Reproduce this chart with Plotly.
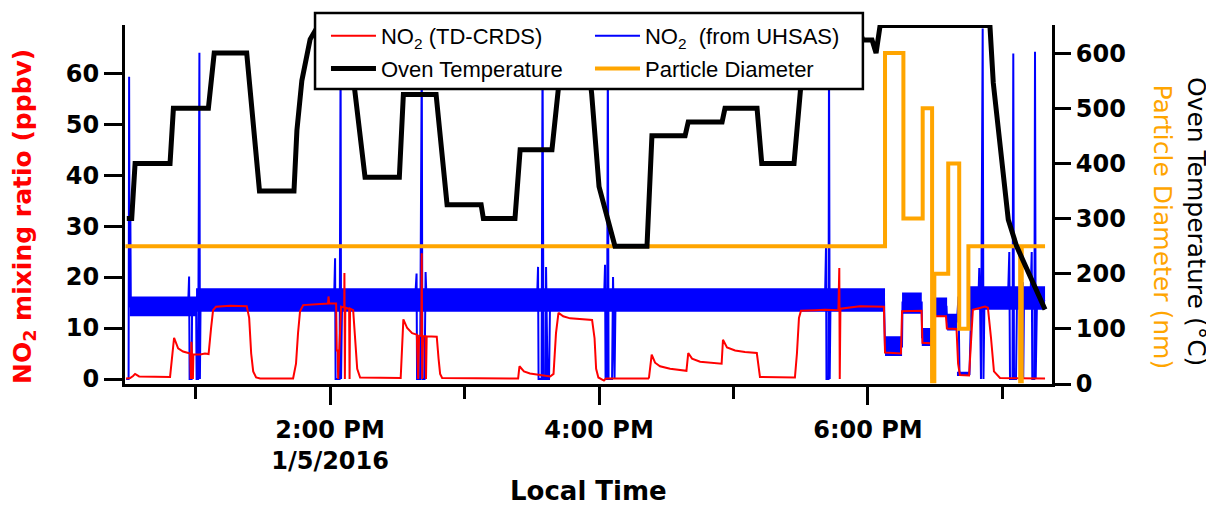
import pandas as pd
import plotly.graph_objects as go

BASE = pd.Timestamp("2016-01-05 12:00:00")


def clock(mins):
    return [BASE + pd.Timedelta(minutes=m) for m in mins]


# ---------------- data (minutes after 12:00 local time) ----------------
# Oven temperature (degC)
oven_min = [29.3, 31.5, 33.0, 48.6, 50.1, 65.7, 68.3, 82.8, 88.5, 103.9, 105.2, 107.4,
            111.1, 114.7, 127.6, 131.2, 135.6, 150.9, 152.7, 167.3, 172.2, 187.4, 188.4,
            202.5, 204.8, 219.0, 221.7, 224.8, 233.3, 236.7, 240.0, 243.4, 247.1, 261.4,
            263.6, 278.4, 279.8, 294.9, 296.2, 310.5, 312.6, 327.0, 329.7, 332.4, 355.0,
            357.8, 361.8, 363.6, 365.4, 414.4, 415.9, 418.9, 422.6, 426.3, 433.7, 439.0]
oven_degC = [300, 300, 400, 400, 500, 500, 600, 600, 350, 350, 460, 550,
             625, 650, 650, 527, 375, 375, 525, 525, 325, 325, 300,
             300, 425, 425, 527, 650, 650, 527, 358, 304, 250, 250,
             450, 450, 475, 475, 500, 500, 400, 400, 527, 650, 650,
             624, 624, 600, 650, 650, 546, 425, 298, 250, 183, 135]

# Particle diameter (nm), stepped
dia_min = [28.7, 367.6, 375.8, 384.4, 388.6, 389.6, 395.8, 400.7, 404.8, 427.9, 428.6, 439.0]
dia_nm = [250, 600, 300, 500, 5, 200, 400, 100, 250, 5, 250, 250]

# NO2 from TD-CRDS (ppbv)
crds_min = [29.0, 30.8, 32.1, 33.0, 34.8, 48.6, 50.4, 52.2, 54.4, 56.7, 57.6, 57.9, 58.1,
            58.4, 58.8, 59.0, 62.0, 64.2, 65.8, 66.9, 67.8, 69.1, 75.4, 82.8, 83.9, 84.8,
            85.7, 87.0, 88.8, 103.5, 104.8, 105.7, 106.6, 108.0, 115.5, 119.1, 119.3, 119.6,
            122.7, 123.0, 123.4, 123.6, 124.9, 126.3, 126.4, 126.6, 126.8, 128.5, 128.7,
            128.9, 130.3, 131.2, 132.1, 133.4, 151.2, 151.5, 152.7, 154.4, 156.6, 158.7,
            159.3, 159.7, 160.7, 160.9, 161.1, 161.5, 162.6, 162.8, 163.1, 167.6, 168.4,
            169.1, 170.0, 203.9, 204.5, 206.5, 209.2, 212.4, 218.2, 219.7, 220.8, 221.9,
            224.0, 227.1, 231.5, 236.9, 238.0, 238.7, 239.7, 242.2, 243.1, 262.0, 262.3,
            263.5, 265.0, 267.2, 271.7, 279.0, 279.8, 281.5, 285.1, 294.7, 295.3, 297.1,
            300.7, 305.1, 310.4, 310.9, 311.8, 327.4, 328.3, 329.2, 330.1, 336.4, 340.8,
            346.8, 347.2, 347.4, 347.7, 356.4, 367.1, 367.6, 374.7, 375.2, 383.9, 384.3,
            388.3, 389.2, 389.5, 389.9, 394.8, 395.2, 399.5, 400.2, 401.0, 405.1, 406.0,
            406.8, 412.2, 413.5, 414.9, 416.2, 418.9, 439.0]
crds_ppbv = [0.1, 0.2, 0.6, 1.0, 0.5, 0.4, 8.1, 6.0, 5.4, 5.2, 5.0, 0.0, 7.3,
             4.8, 0.0, 4.8, 4.8, 5.0, 4.9, 10.0, 13.5, 14.2, 14.4, 14.3, 12.0, 5.0,
             1.5, 0.3, 0.1, 0.1, 3.0, 9.0, 13.3, 14.5, 14.7, 14.8, 16.2, 14.8,
             14.8, 5.6, 5.6, 0.0, 14.2, 14.0, 20.8, 0.0, 14.0, 13.8, 0.0,
             13.8, 13.5, 8.0, 2.0, 0.3, 0.1, 0.2, 11.7, 10.0, 9.0, 8.7,
             0.0, 8.5, 8.5, 24.7, 0.0, 8.4, 8.4, 0.0, 8.4, 8.3, 4.0,
             1.0, 0.2, 0.1, 2.5, 1.5, 1.1, 0.9, 0.5, 1.0, 9.0, 13.0,
             12.3, 11.9, 11.7, 11.6, 8.0, 2.0, 0.3, -0.3, 0.1, 0.1, 0.3,
             4.8, 3.2, 2.5, 2.0, 1.6, 5.1, 4.0, 3.4, 3.0, 7.7, 6.2,
             5.6, 5.3, 5.1, 3.0, 0.4, 0.3, 5.0, 12.0, 13.4, 13.5, 13.6,
             13.5, 21.8, 0.0, 13.8, 14.3, 14.2, 5.2, 5.0, 13.3, 13.4, 7.1,
             7.0, 16.9, 0.0, 12.3, 12.3, 9.9, 9.8, 3.0, 0.8, 0.7, 8.0,
             13.6, 14.2, 14.0, 8.0, 1.5, 0.2, 0.1]

# NO2 from UHSAS (ppbv): spikes / dropouts on the mean level
uhsas_min = [29.0, 30.1, 30.34, 30.56, 30.87, 31.1, 56.66, 57.1, 57.33, 58.22, 58.44, 60.23,
             60.45, 61.12, 61.7, 61.92, 62.23, 121.79, 122.23, 122.46, 124.24, 124.69, 124.91,
             125.36, 157.92, 158.59, 158.81, 160.15, 160.91, 161.18, 162.16, 162.61, 163.05,
             212.35, 212.79, 213.02, 214.36, 214.8, 215.25, 216.14, 216.36, 217.03, 217.7,
             218.15, 242.24, 242.68, 242.91, 243.58, 243.93, 244.25, 245.81, 246.25, 246.92,
             247.37, 340.82, 341.27, 341.49, 342.38, 342.61, 342.92, 343.28, 367.15, 367.59,
             375.17, 375.4, 383.96, 384.1, 388.34, 388.47, 388.78, 395.02, 395.25, 399.71,
             400.38, 400.82, 405.28, 406.17, 409.29, 409.65, 409.97, 410.41, 411.17, 411.53,
             411.98, 422.47, 423.05, 423.36, 424.48, 424.83, 425.15, 426.04, 426.49, 428.27,
             429.03, 429.26, 429.61, 432.51, 433.05, 433.31, 434.21, 434.52, 434.83, 435.41,
             438.98]
uhsas_ppbv = [0, 0, 59.3, 14.2, 34, 14.2, 14.2, 20.1, 0, 0, 14.2, 14.5,
              0, 0, 64, 0, 15.5, 15.5, 23.7, 0, 0, 64, 0,
              15.5, 15.5, 20.7, 0, 0, 64, 0, 0, 21, 15.5,
              15.5, 22, 0, 0, 64, 0, 0, 22, 0, 0,
              15.5, 15.5, 22.4, 0, 0, 64, 0, 0, 20, 0,
              15.5, 15.5, 26, 0, 0, 64, 0, 15.5, 15.5, 6.4,
              6.4, 15.0, 15.0, 8.2, 8.2, 0, 14.2, 14.2, 11.3, 11.3,
              16.2, 1.0, 1.0, 15.9, 15.9, 21.8, 15.9, 0, 68.8, 0,
              15.9, 15.9, 24.9, 0, 0, 63.9, 0, 0, 15.9, 15.9,
              19, 0, 15.9, 15.9, 24.9, 0, 0, 64.2, 0, 15.9,
              15.3]

# UHSAS noise envelope (stepped)
band_min = [30.6, 60.2, 367.6, 375.2, 384.0, 388.6, 395.3, 399.7, 405.5, 439.0]
band_low = [12.3, 13.2, 4.5, 12.8, 6.5, 12.3, 9.5, 0.6, 13.6, 13.6]
band_high = [16.2, 17.8, 8.4, 17.0, 10.0, 16.0, 12.8, 1.4, 18.2, 18.2]

# axes
x_range_min = [28.5, 442.1]
major_tick_min = [120, 240, 360]
major_tick_text = ["2:00 PM<br>1/5/2016", "4:00 PM", "6:00 PM"]
minor_tick_min = [60, 180, 300, 420]
left_ticks = [0, 10, 20, 30, 40, 50, 60]
right_ticks = [0, 100, 200, 300, 400, 500, 600]

# ---------------- figure ----------------
BOLD = dict(family="DejaVu Sans", size=24, color="black", weight="bold")

fig = go.Figure()

fig.add_trace(go.Scatter(x=clock(band_min), y=band_low, mode="lines", line=dict(width=0, shape="hv", color="#0000FF"),
                         showlegend=False, legend="legend2", legendgroup="uhsas", hoverinfo="skip"))
fig.add_trace(go.Scatter(x=clock(band_min), y=band_high, mode="lines", line=dict(width=0, shape="hv", color="#0000FF"),
                         fill="tonexty", fillcolor="#0000FF",
                         showlegend=False, legend="legend2", legendgroup="uhsas", hoverinfo="skip"))
fig.add_trace(go.Scatter(x=clock(uhsas_min), y=uhsas_ppbv, mode="lines", line=dict(width=2, color="#0000FF"),
                         name="NO<sub>2</sub>  (from UHSAS)", legend="legend2", legendgroup="uhsas"))
fig.add_trace(go.Scatter(x=clock(crds_min), y=crds_ppbv, mode="lines", line=dict(width=2, color="#FF0000"),
                         name="NO<sub>2</sub> (TD-CRDS)", legend="legend", legendgroup="crds"))
fig.add_trace(go.Scatter(x=clock(dia_min), y=dia_nm, mode="lines", yaxis="y2",
                         line=dict(width=4, color="#FFA500", shape="hv"),
                         name="Particle Diameter", legend="legend2", legendgroup="dia"))
fig.add_trace(go.Scatter(x=clock(oven_min), y=oven_degC, mode="lines", yaxis="y2",
                         line=dict(width=5, color="black"),
                         name="Oven Temperature", legend="legend", legendgroup="oven"))

axis_common = dict(showline=True, linewidth=3, linecolor="black", ticks="outside", tickwidth=3,
                   tickcolor="black", showgrid=False, zeroline=False, tickfont=BOLD, automargin=False)

leg_font = dict(family="Liberation Sans", size=22, color="black")

# page body has an 8 px margin: figure drawn at (8, 8) in the window
# paper area: fig x 117..1044, fig y 0..376 ; axes area fig y 17..376
Y_DOM = [0, 359 / 376]

fig.update_layout(
    width=1206, height=500,
    margin=dict(l=117, r=162, t=0, b=124, autoexpand=False),
    paper_bgcolor="white", plot_bgcolor="white",
    xaxis=dict(type="date", range=clock(x_range_min), tickmode="array",
               tickvals=clock(major_tick_min), ticktext=major_tick_text, ticklen=18,
               ticklabelstandoff=4,
               minor=dict(tickmode="array", tickvals=clock(minor_tick_min), ticklen=12, tickwidth=3,
                          tickcolor="black", ticks="outside"),
               **axis_common),
    yaxis=dict(range=[-0.98, 69.47], domain=Y_DOM, tickmode="array", tickvals=left_ticks, ticklen=18,
               **axis_common),
    yaxis2=dict(range=[0, 651], domain=Y_DOM, tickmode="array", tickvals=right_ticks, ticklen=16,
                overlaying="y", side="right", **axis_common),
    legend=dict(x=0.2168, y=0.9814, xanchor="left", yanchor="top", bgcolor="rgba(0,0,0,0)",
                font=leg_font, tracegroupgap=1, traceorder="grouped", itemwidth=45),
    legend2=dict(x=0.5016, y=0.9814, xanchor="left", yanchor="top", bgcolor="rgba(0,0,0,0)",
                 font=leg_font, tracegroupgap=1, traceorder="grouped", itemwidth=45),
    shapes=[dict(type="rect", xref="paper", yref="paper", x0=0.205, x1=0.796, y0=0.7846, y1=0.9867,
                 fillcolor="white", line=dict(color="black", width=2.5), layer="above")],
    annotations=[
        dict(text="NO<sub>2</sub> mixing ratio (ppbv)", xref="paper", yref="paper", x=-0.1090, y=0.4468,
             xanchor="center", yanchor="middle",
             textangle=-90, showarrow=False, font=dict(family="DejaVu Sans", size=25, color="#FF0000", weight="bold")),
        dict(text="Oven Temperature (°C)", xref="paper", yref="paper", x=1.1565, y=0.4335,
             xanchor="center", yanchor="middle",
             textangle=90, showarrow=False, font=dict(family="DejaVu Sans", size=25, color="black")),
        dict(text="Particle Diameter (nm)", xref="paper", yref="paper", x=1.1187, y=0.4189,
             xanchor="center", yanchor="middle",
             textangle=90, showarrow=False, font=dict(family="DejaVu Sans", size=25, color="#FFA500")),
        dict(text="Local Time", xref="paper", yref="paper", x=0.4995, y=-0.3290,
             xanchor="center", yanchor="bottom",
             showarrow=False, font=dict(family="DejaVu Sans", size=26, color="black", weight="bold")),
    ],
)

fig.write_html("out.html")
